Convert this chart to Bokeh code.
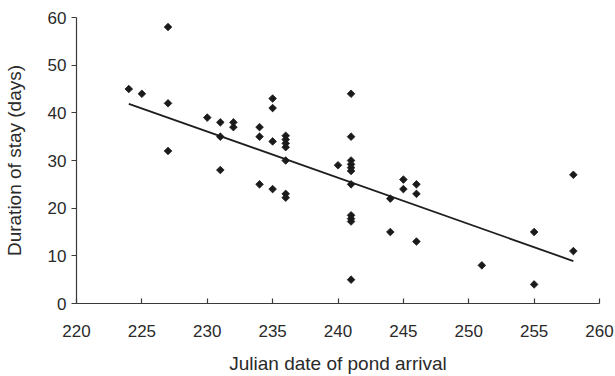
import math
from bokeh.plotting import figure
from bokeh.models import Range1d, FixedTicker
from bokeh.embed import file_html
from bokeh.resources import INLINE

# Julian date of pond arrival
arrival = [224, 225, 227, 227, 227, 230, 231, 231, 231, 232, 232,
           234, 234, 234, 235, 235, 235, 235,
           236, 236, 236, 236, 236, 236, 236,
           240, 241, 241, 241, 241, 241, 241, 241, 241, 241, 241, 241,
           244, 244, 245, 245, 246, 246, 246, 251, 255, 255, 258, 258]
# Duration of stay (days)
duration = [45, 44, 58, 42, 32, 39, 38, 35, 28, 38, 37,
            37, 35, 25, 43, 41, 34, 24,
            35.2, 34.4, 33.6, 32.8, 30, 23, 22.2,
            29, 44, 35, 30, 29.2, 28.5, 27.8, 25, 18.5, 17.8, 17.2, 5,
            22, 15, 26, 24, 25, 23, 13, 8, 15, 4, 27, 11]

# Fitted trend line (end points)
fit_x = [224, 258]
fit_y = [41.9, 8.9]

x_ticks = [220, 225, 230, 235, 240, 245, 250, 255, 260]
y_ticks = [0, 10, 20, 30, 40, 50, 60]

FONT = "Liberation Sans"
INK = "#1a1a1a"
AXIS = "#3a3a3a"

p = figure(width=615, height=376, output_backend="svg", toolbar_location=None,
           x_range=Range1d(220, 260), y_range=Range1d(0, 60),
           min_border_left=73, min_border_right=16, min_border_top=17,
           min_border_bottom=73)
p.outline_line_color = None
p.grid.visible = False
p.background_fill_color = "white"
p.border_fill_color = "white"

p.line(fit_x, fit_y, line_color="#1e1e1e", line_width=1.8)
p.scatter(arrival, duration, marker="square", size=5.4, angle=math.pi / 4,
          fill_color=INK, line_color=INK, line_width=0.8)

xa = p.xaxis[0]
xa.ticker = FixedTicker(ticks=x_ticks)
xa.axis_label = "Julian date of pond arrival"
xa.major_tick_in = 5
xa.major_tick_out = 0
xa.minor_tick_line_color = None
xa.major_label_standoff = 21
xa.axis_label_standoff = 13

ya = p.yaxis[0]
ya.ticker = FixedTicker(ticks=y_ticks)
ya.axis_label = "Duration of stay (days)"
ya.major_tick_in = 0
ya.major_tick_out = 5
ya.minor_tick_line_color = None
ya.major_label_standoff = 5
ya.axis_label_standoff = 20

for ax in (xa, ya):
    ax.axis_line_color = AXIS
    ax.axis_line_width = 1.2
    ax.major_tick_line_color = AXIS
    ax.major_tick_line_width = 1.2
    ax.major_label_text_font = FONT
    ax.major_label_text_font_size = "17px"
    ax.major_label_text_color = "#2a2a2a"
    ax.axis_label_text_font = FONT
    ax.axis_label_text_font_size = "19px"
    ax.axis_label_text_font_style = "normal"
    ax.axis_label_text_color = "#2a2a2a"

open("out.html", "w").write(file_html(p, INLINE))
